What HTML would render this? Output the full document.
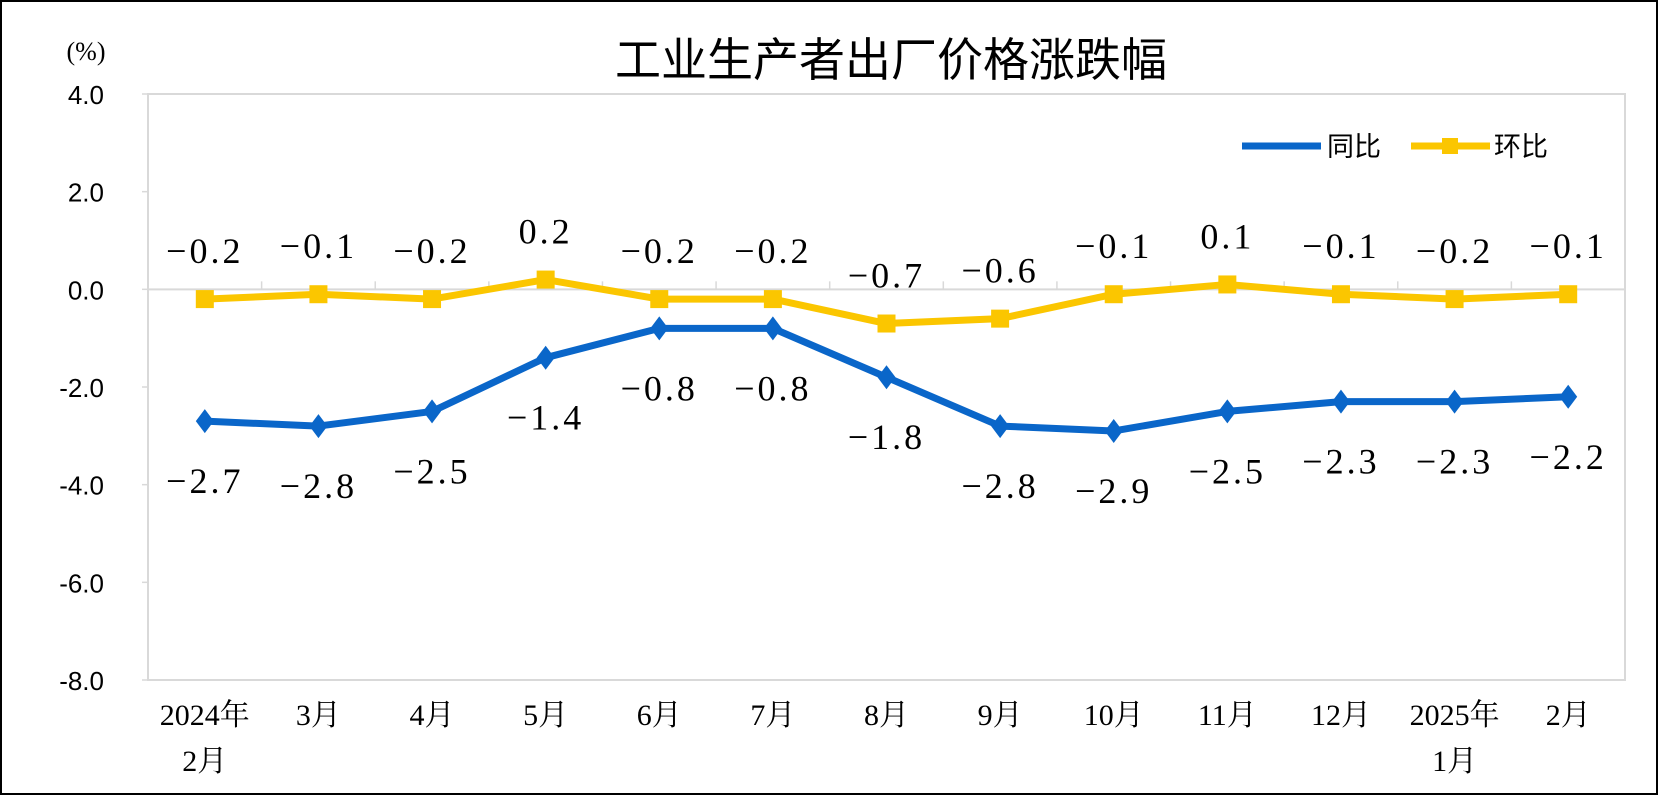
<!DOCTYPE html>
<html><head><meta charset="utf-8"><style>
html,body{margin:0;padding:0;background:#fff}
svg{display:block}
</style></head><body>
<svg id="c" width="1658" height="795" xmlns="http://www.w3.org/2000/svg">
<rect x="1" y="1" width="1656" height="793" fill="#fff" stroke="#000" stroke-width="2"/>
<text x="891" y="76" text-anchor="middle" font-family="'Liberation Sans','Noto Sans CJK SC',sans-serif" font-size="46" fill="#000">工业生产者出厂价格涨跌幅</text>
<text x="86" y="60" text-anchor="middle" font-family="'Liberation Serif',serif" font-size="26" fill="#000">(%)</text>
<rect x="148" y="94" width="1477" height="586" fill="none" stroke="#d9d9d9" stroke-width="2"/>
<g id="g"></g>
<g>
<line x1="1242" y1="146" x2="1321" y2="146" stroke="#0a66c9" stroke-width="7"/>
<text x="1327" y="156" font-family="'Liberation Sans','Noto Sans CJK SC',sans-serif" font-size="27">同比</text>
<line x1="1411" y1="146" x2="1490" y2="146" stroke="#fbc600" stroke-width="7"/>
<rect x="1442" y="138" width="16" height="16" fill="#fbc600"/>
<text x="1494" y="156" font-family="'Liberation Sans','Noto Sans CJK SC',sans-serif" font-size="27">环比</text>
</g>
</svg>
<script>
const categories=[["2024年","2月"],["3月"],["4月"],["5月"],["6月"],["7月"],["8月"],["9月"],["10月"],["11月"],["12月"],["2025年","1月"],["2月"]];
const yoy=[-2.7,-2.8,-2.5,-1.4,-0.8,-0.8,-1.8,-2.8,-2.9,-2.5,-2.3,-2.3,-2.2];
const mom=[-0.2,-0.1,-0.2,0.2,-0.2,-0.2,-0.7,-0.6,-0.1,0.1,-0.1,-0.2,-0.1];
const yTicks=[4,2,0,-2,-4,-6,-8];
const L=148,R=1625,T=94,B=680,yMax=4,yMin=-8;
const bw=(R-L)/categories.length;
const X=i=>L+bw*(i+0.5);
const Y=v=>T+(yMax-v)/(yMax-yMin)*(B-T);
const NS="http://www.w3.org/2000/svg";
const g=document.getElementById('g');
function mk(t,a,txt){const e=document.createElementNS(NS,t);for(const k in a)e.setAttribute(k,a[k]);if(txt!==undefined)e.textContent=txt;g.appendChild(e);return e;}
let z=mk('line',{x1:L,x2:R,y1:Y(0),y2:Y(0),stroke:'#d9d9d9','stroke-width':2});


for(let i=1;i<categories.length;i++){let t=mk('line',{x1:L+bw*i,x2:L+bw*i,y1:Y(0),y2:Y(0)-8,stroke:'#d9d9d9','stroke-width':1.5});

}
yTicks.forEach(v=>{let t=mk('text',{x:104,y:Y(v)+10,'text-anchor':'end','font-family':"'Liberation Sans',sans-serif",'font-size':26},v.toFixed(1));


let k=mk('line',{x1:L-6,x2:L,y1:Y(v),y2:Y(v),stroke:'#d9d9d9','stroke-width':1.5});

});
categories.forEach((c,i)=>{c.forEach((s,j)=>{let t=mk('text',{x:X(i),y:725+j*46,'text-anchor':'middle','font-family':"'Liberation Serif','Noto Serif CJK SC',serif",'font-size':30},s);

});});
function series(arr,color,name,marker,labOff){
 const d=arr.map((v,i)=>(i?'L':'M')+X(i)+','+Y(v)).join(' ');
 let p=mk('path',{d:d,fill:'none',stroke:color,'stroke-width':7,'stroke-linejoin':'round'});
 
 
 arr.forEach((v,i)=>{let m;
  if(marker==='sq'){m=mk('rect',{x:X(i)-9,y:Y(v)-9,width:18,height:18,fill:color});}
  else{const x=X(i),y=Y(v);m=mk('polygon',{points:`${x},${y-12} ${x+9},${y} ${x},${y+12} ${x-9},${y}`,fill:color});}
  
  
  let t=mk('text',{x:X(i),y:Y(v)+labOff,'text-anchor':'middle','font-family':"'Liberation Serif',serif",'font-size':36,'letter-spacing':'3'},v.toFixed(1).replace('-','−'));
  
  
 });
}
series(mom,'#fbc600','mom','sq',-36);
series(yoy,'#0a66c9','yoy','dia',72);
</script>
</body></html>
